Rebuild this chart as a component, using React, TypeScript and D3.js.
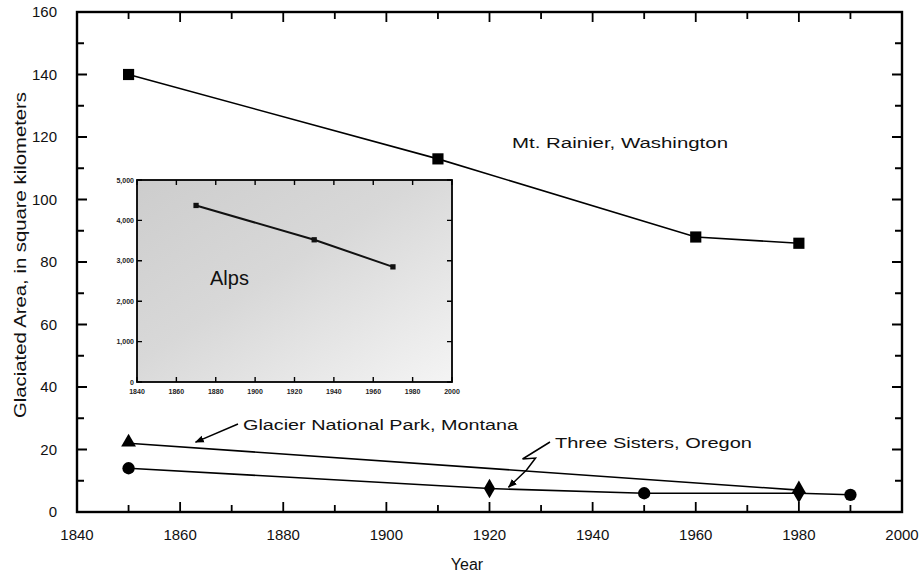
import React from 'react';
import * as d3 from 'd3';

// Main chart series (year, glaciated area in km²)
const rainierYears = [1850, 1910, 1960, 1980];
const rainierArea = [140, 113, 88, 86];

const glacierParkYears = [1850, 1980];
const glacierParkArea = [22, 7];

const sistersYears = [1850, 1920, 1950, 1980, 1990];
const sistersArea = [14, 7.5, 6, 6, 5.5];
const sistersShapes = ['circle', 'diamond', 'circle', 'diamond', 'circle'];

// Inset: Alps
const alpsYears = [1870, 1930, 1970];
const alpsArea = [4370, 3520, 2850];

const xTicks = [1840, 1860, 1880, 1900, 1920, 1940, 1960, 1980, 2000];
const yTicks = [0, 20, 40, 60, 80, 100, 120, 140, 160];
const insetXTicks = [1840, 1860, 1880, 1900, 1920, 1940, 1960, 1980, 2000];
const insetYTicks = [0, 1000, 2000, 3000, 4000, 5000];
const insetYLabels = ['0', '1,000', '2,000', '3,000', '4,000', '5,000'];

const FONT = '"Liberation Sans", Arial, sans-serif';

const App: React.FC = () => {
  const width = 921;
  const height = 575;

  const x = d3.scaleLinear().domain([1840, 2000]).range([77, 902]);
  const y = d3.scaleLinear().domain([0, 160]).range([512, 12]);

  const ix = d3.scaleLinear().domain([1840, 2000]).range([137, 452]);
  const iy = d3.scaleLinear().domain([0, 5000]).range([382, 180]);

  const line = d3.line<[number, number]>().x(d => x(d[0])).y(d => y(d[1]));
  const insetLine = d3.line<[number, number]>().x(d => ix(d[0])).y(d => iy(d[1]));

  const rainier = rainierYears.map((yr, i) => [yr, rainierArea[i]] as [number, number]);
  const glacierPark = glacierParkYears.map((yr, i) => [yr, glacierParkArea[i]] as [number, number]);
  const sisters = sistersYears.map((yr, i) => [yr, sistersArea[i]] as [number, number]);
  const alps = alpsYears.map((yr, i) => [yr, alpsArea[i]] as [number, number]);

  const square = d3.symbol().type(d3.symbolSquare).size(125)()!;
  const triangle = d3.symbol().type(d3.symbolTriangle).size(95)()!;
  const circle = d3.symbol().type(d3.symbolCircle).size(120)()!;
  const diamond = d3.symbol().type(d3.symbolDiamond).size(110)()!;
  const smallSquare = d3.symbol().type(d3.symbolSquare).size(28)()!;

  // minor ticks every 10
  const xMinor = d3.range(1840, 2001, 10);
  const yMinor = d3.range(0, 161, 10);

  // tick marks as one path, pointing inward on all four sides
  const mainTicks =
    xMinor.map(t => {
      const len = t % 20 === 0 ? 10 : 7;
      return `M${x(t)},${y(0)}v${-len}M${x(t)},${y(160)}v${len}`;
    }).join('') +
    yMinor.map(t => {
      const len = t % 20 === 0 ? 10 : 7;
      return `M${x(1840)},${y(t)}h${len}M${x(2000)},${y(t)}h${-len}`;
    }).join('');

  const insetTicks =
    insetXTicks.map(t => `M${ix(t)},${iy(0)}v-5M${ix(t)},${iy(5000)}v5`).join('') +
    insetYTicks.map(t => `M${ix(1840)},${iy(t)}h5M${ix(2000)},${iy(t)}h-5`).join('');

  // annotation anchors (data coordinates)
  const gpTip: [number, number] = [x(1863), y(21.4)];
  const tsTip: [number, number] = [x(1923.5), y(7.6)];

  return (
    <svg width={width} height={height} style={{ position: 'absolute', left: 0, top: 0, background: '#fff' }}
      fontFamily={FONT}>
      <defs>
        <linearGradient id="insetBg" x1="0%" y1="0%" x2="100%" y2="100%">
          <stop offset="0%" stopColor="#cdcdcd" />
          <stop offset="45%" stopColor="#d8d8d8" />
          <stop offset="100%" stopColor="#f4f4f4" />
        </linearGradient>
        <marker id="arrow" viewBox="0 0 10 10" refX="9" refY="5" markerWidth="9" markerHeight="9"
          orient="auto" markerUnits="userSpaceOnUse">
          <path d="M0,1 L10,5 L0,9 z" fill="#000" />
        </marker>
      </defs>

      {/* main frame + ticks */}
      <rect x={x(1840)} y={y(160)} width={x(2000) - x(1840)} height={y(0) - y(160)}
        fill="none" stroke="#000" strokeWidth={2.4} />
      <path d={mainTicks} fill="none" stroke="#000" strokeWidth={1.8} />

      {/* tick labels */}
      <g fontSize={15} fill="#111">
        {yTicks.map(t => (
          <text key={`yl${t}`} x={57} y={y(t) + 5} textAnchor="end">{t}</text>
        ))}
        {xTicks.map(t => (
          <text key={`xl${t}`} x={x(t)} y={540} textAnchor="middle">{t}</text>
        ))}
      </g>

      <text x={467} y={570} fontSize={16} textAnchor="middle" fill="#111">Year</text>
      <text transform={`translate(26,255) rotate(-90)`} fontSize={16} textAnchor="middle" fill="#111"
        textLength={326} lengthAdjust="spacingAndGlyphs">
        Glaciated Area, in square kilometers
      </text>

      {/* inset */}
      <g>
        <rect x={ix(1840)} y={iy(5000)} width={ix(2000) - ix(1840)} height={iy(0) - iy(5000)}
          fill="url(#insetBg)" stroke="#000" strokeWidth={1.8} />
        <path d={insetTicks} fill="none" stroke="#000" strokeWidth={1.4} />
        <g fontSize={7} fontWeight="bold" fill="#222">
          {insetYTicks.map((t, i) => (
            <text key={`iyl${t}`} x={ix(1840) - 3} y={iy(t) + 2.5} textAnchor="end">{insetYLabels[i]}</text>
          ))}
          {insetXTicks.map(t => (
            <text key={`ixl${t}`} x={ix(t)} y={iy(0) + 12} textAnchor="middle">{t}</text>
          ))}
        </g>
        <path d={insetLine(alps) || ''} fill="none" stroke="#111" strokeWidth={2} />
        {alps.map((d, i) => (
          <path key={`ap${i}`} d={smallSquare} transform={`translate(${ix(d[0])},${iy(d[1])})`} fill="#111" />
        ))}
        <text x={210} y={285} fontSize={20} fill="#111">Alps</text>
      </g>

      {/* main series */}
      <path d={line(rainier) || ''} fill="none" stroke="#000" strokeWidth={1.6} />
      <path d={line(glacierPark) || ''} fill="none" stroke="#000" strokeWidth={1.6} />
      <path d={line(sisters) || ''} fill="none" stroke="#000" strokeWidth={1.6} />

      {rainier.map((d, i) => (
        <path key={`r${i}`} d={square} transform={`translate(${x(d[0])},${y(d[1])})`} fill="#000" />
      ))}
      {glacierPark.map((d, i) => (
        <path key={`g${i}`} d={triangle} transform={`translate(${x(d[0])},${y(d[1]) - 1})`} fill="#000" />
      ))}
      {sisters.map((d, i) => (
        <path key={`s${i}`} d={sistersShapes[i] === 'diamond' ? diamond : circle}
          transform={`translate(${x(d[0])},${y(d[1])})`} fill="#000" />
      ))}

      {/* annotations */}
      <text x={512} y={148} fontSize={15.5} fill="#111" textLength={216} lengthAdjust="spacingAndGlyphs">
        Mt. Rainier, Washington
      </text>
      <text x={243} y={430} fontSize={15.5} fill="#111" textLength={275} lengthAdjust="spacingAndGlyphs">
        Glacier National Park, Montana
      </text>
      <line x1={238} y1={424} x2={gpTip[0]} y2={gpTip[1] - 3} stroke="#000" strokeWidth={1.5}
        markerEnd="url(#arrow)" />
      <text x={555} y={448} fontSize={15.5} fill="#111" textLength={197} lengthAdjust="spacingAndGlyphs">
        Three Sisters, Oregon
      </text>
      <polyline
        points={`550,442 ${tsTip[0] + 15},459 ${tsTip[0] + 28},458 ${tsTip[0] + 19},470 ${tsTip[0] + 1},${tsTip[1] - 1}`}
        fill="none" stroke="#000" strokeWidth={1.5} markerEnd="url(#arrow)" />
    </svg>
  );
};

export default App;
